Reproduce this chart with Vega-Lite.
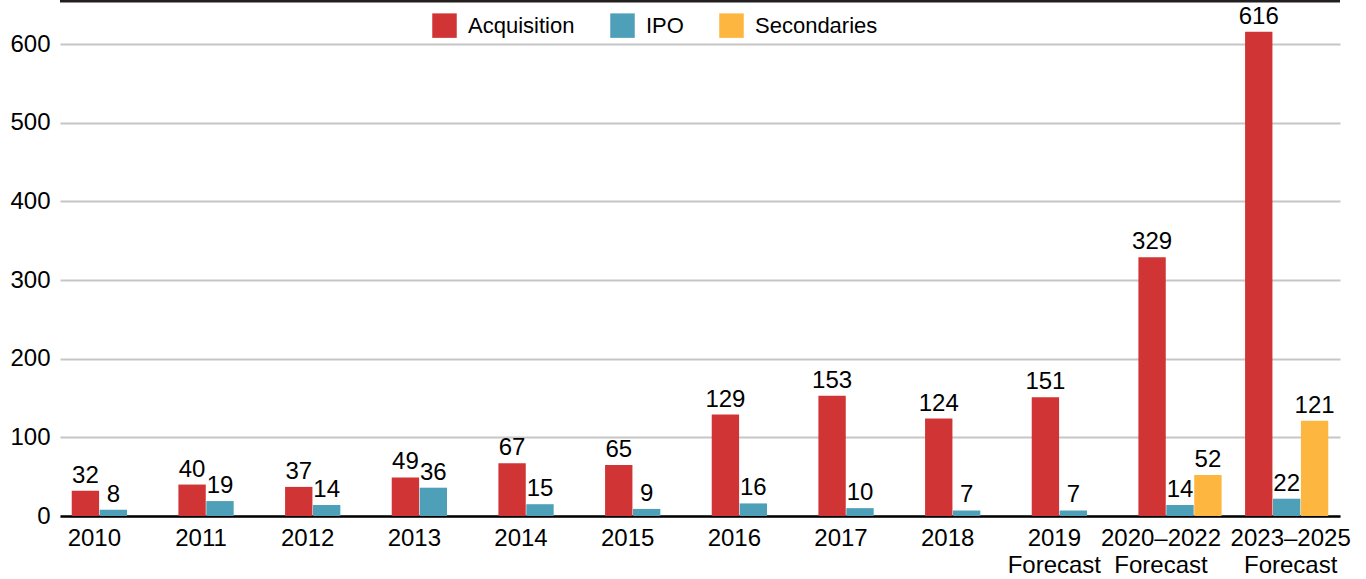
{
  "$schema": "https://vega.github.io/schema/vega-lite/v6.json",
  "autosize": "none",
  "padding": {"left": 60, "top": 1, "right": 26, "bottom": 63},
  "width": 1280,
  "height": 515,
  "background": "white",
  "config": {
    "font": "Liberation Sans",
    "view": {"stroke": null},
    "axis": {"labelFont": "Liberation Sans", "labelColor": "#000000"}
  },
  "layer": [
    {
      "data": {
        "values": [
          {"period": "2010", "type": "Acquisition", "value": 32},
          {"period": "2010", "type": "IPO", "value": 8},
          {"period": "2011", "type": "Acquisition", "value": 40},
          {"period": "2011", "type": "IPO", "value": 19},
          {"period": "2012", "type": "Acquisition", "value": 37},
          {"period": "2012", "type": "IPO", "value": 14},
          {"period": "2013", "type": "Acquisition", "value": 49},
          {"period": "2013", "type": "IPO", "value": 36},
          {"period": "2014", "type": "Acquisition", "value": 67},
          {"period": "2014", "type": "IPO", "value": 15},
          {"period": "2015", "type": "Acquisition", "value": 65},
          {"period": "2015", "type": "IPO", "value": 9},
          {"period": "2016", "type": "Acquisition", "value": 129},
          {"period": "2016", "type": "IPO", "value": 16},
          {"period": "2017", "type": "Acquisition", "value": 153},
          {"period": "2017", "type": "IPO", "value": 10},
          {"period": "2018", "type": "Acquisition", "value": 124},
          {"period": "2018", "type": "IPO", "value": 7},
          {"period": "2019 Forecast", "type": "Acquisition", "value": 151},
          {"period": "2019 Forecast", "type": "IPO", "value": 7},
          {"period": "2020–2022 Forecast", "type": "Acquisition", "value": 329},
          {"period": "2020–2022 Forecast", "type": "IPO", "value": 14},
          {"period": "2020–2022 Forecast", "type": "Secondaries", "value": 52},
          {"period": "2023–2025 Forecast", "type": "Acquisition", "value": 616},
          {"period": "2023–2025 Forecast", "type": "IPO", "value": 22},
          {"period": "2023–2025 Forecast", "type": "Secondaries", "value": 121}
        ]
      },
      "encoding": {
        "x": {
          "field": "period",
          "type": "nominal",
          "sort": null,
          "scale": {"paddingInner": 0.22, "paddingOuter": 0.11},
          "axis": {
            "title": null,
            "labelAngle": 0,
            "labelFontSize": 24,
            "labelLineHeight": 27,
            "labelPadding": 10,
            "labelOffset": {"condition": {"test": "datum.value == '2023–2025 Forecast'", "value": 4}, "value": -19},
            "labelExpr": "split(datum.label, ' ')",
            "ticks": false,
            "domain": true,
            "domainColor": "#000000",
            "domainWidth": 2.5,
            "grid": false
          }
        },
        "xOffset": {"field": "type", "type": "nominal", "scale": {"domain": ["Acquisition", "IPO", "Secondaries"], "paddingInner": 0.02}},
        "y": {
          "field": "value",
          "type": "quantitative",
          "scale": {"domain": [0, 655], "nice": false},
          "axis": {
            "title": null,
            "values": [0, 100, 200, 300, 400, 500, 600],
            "labelFontSize": 24,
            "labelPadding": 10,
            "ticks": false,
            "domain": false,
            "grid": true,
            "gridColor": "#c6c6c6",
            "gridWidth": 2
          }
        }
      },
      "layer": [
        {
          "mark": {"type": "bar"},
          "encoding": {
            "color": {
              "field": "type",
              "type": "nominal",
              "scale": {"domain": ["Acquisition", "IPO", "Secondaries"], "range": ["#d13434", "#4e9fb8", "#fdb63f"]},
              "legend": {
                "title": null,
                "orient": "none",
                "legendX": 372,
                "legendY": 12,
                "direction": "horizontal",
                "symbolType": "square",
                "symbolSize": 600,
                "symbolStrokeWidth": 0,
                "symbolOpacity": 1,
                "labelFontSize": 22,
                "labelColor": "#000000",
                "labelOffset": 11,
                "columnPadding": 35
              }
            }
          }
        },
        {
          "mark": {"type": "text", "baseline": "bottom", "dy": -3, "fontSize": 24, "color": "#000000"},
          "encoding": {"text": {"field": "value", "type": "quantitative"}}
        }
      ]
    },
    {
      "data": {"values": [{"top": 655}]},
      "mark": {"type": "rule", "color": "#231f20", "strokeWidth": 3},
      "encoding": {"y": {"field": "top", "type": "quantitative"}}
    }
  ]
}
